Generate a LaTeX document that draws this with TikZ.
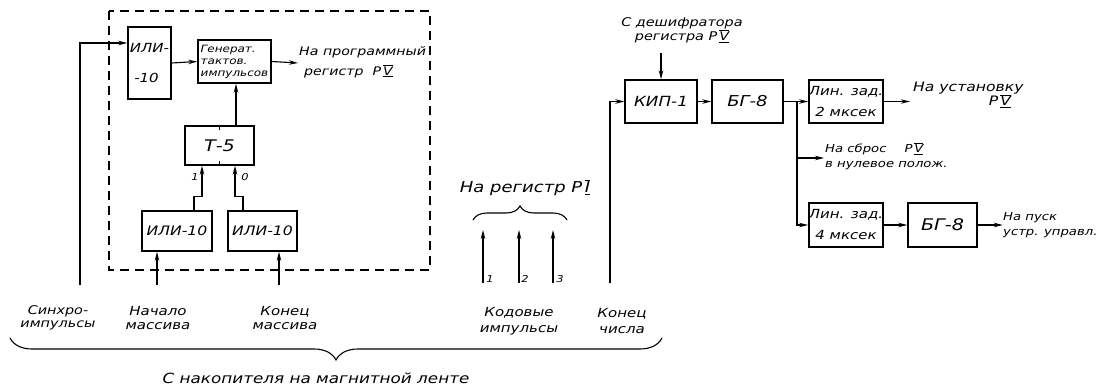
\documentclass[tikz,border=0pt]{standalone}
\usepackage{fontspec}
\usepackage{graphicx}
\setmainfont{DejaVu Sans}[FakeStretch=1.2]
\usetikzlibrary{arrows.meta,decorations.pathreplacing}
\newcommand\barred[1]{$\overline{\underline{\hbox{#1}}}$}
\begin{document}
\begin{tikzpicture}[x=1pt,y=-1pt,
  arr/.style={line width=1.1pt,-{Stealth[length=9pt,width=4.5pt]}},
  conn/.style={line width=1.1pt},
  f/.style 2 args={font=\fontsize{#1}{#2}\selectfont\itshape},
  blk/.style={draw,line width=1.5pt,inner sep=0pt,align=center},
  lbl/.style={inner sep=0pt,align=center},
  brc/.style={line width=1.1pt,decorate}]
\useasboundingbox (0,0) rectangle (1105,388);
% dashed frame
\draw[line width=1.1pt,dash pattern=on 9pt off 6pt] (109,11) rectangle (430,270);
% blocks
\node[blk,f={12.5}{30},minimum width=43pt,minimum height=72pt] (ili1) at (149.5,63) {ИЛИ-\\\hspace*{-6pt}-10};
\node[blk,f={10}{12},align=left,minimum width=73pt,minimum height=43pt] (gen) at (234.5,61.5)
  {Генерат.\\тактов.\\импульсов};
\node[blk,f={16}{18},minimum width=69pt,minimum height=39pt] (t5) at (219.5,145.5) {Т-5};
\node[blk,f={13}{16},minimum width=70pt,minimum height=40pt] (ili2) at (177,231) {ИЛИ-10};
\node[blk,f={13}{16},minimum width=69pt,minimum height=40pt] (ili3) at (262.5,231) {ИЛИ-10};
\node[blk,f={14}{16},minimum width=72pt,minimum height=43pt] (kip) at (661,101.5) {КИП-1};
\node[blk,f={15}{18},minimum width=71pt,minimum height=43pt] (bg1) at (747.5,101.5) {БГ-8};
\node[blk,f={12.5}{21},minimum width=72pt,minimum height=43pt] (lin1) at (846,101.5) {Лин. зад.\\2 мксек};
\node[blk,f={12.5}{21},minimum width=72pt,minimum height=44pt] (lin2) at (846,225) {Лин. зад.\\4 мксек};
\node[blk,f={16}{18},minimum width=69pt,minimum height=44pt] (bg2) at (942.5,225) {БГ-8};
% flip-flop ticks
\draw[conn] (t5.north) -- ++(0,5);
\draw[conn] (t5.south) -- ++(0,-5);
% free ends
\coordinate (sy) at (80,285);
\coordinate (nach) at (157,285);
\coordinate (konm) at (279,285);
\coordinate (kc) at (610,283);
\coordinate (k1) at (483,283);
\coordinate (k2) at (519,283);
\coordinate (k3) at (553,283);
\coordinate (genout) at (298,63);
\coordinate (desh) at (661,53);
\coordinate (J) at (797,101.5);
\coordinate (Jm) at (797,158);
% connectors
\draw[arr] (sy) |- ([yshift=20pt]ili1.west);
\draw[arr] (ili1.east) -- (gen.west);
\draw[arr] (gen.east) -- (genout);
\draw[arr] ([xshift=16.5pt]t5.north) -- ([xshift=16.5pt]t5.north |- gen.south);
\draw[arr] ([xshift=17pt]ili2.north) -- ++(0,-14) -| ([xshift=-17.5pt]t5.south);
\draw[arr] ([xshift=-19.5pt]ili3.north) -- ++(0,-14) -| ([xshift=15.5pt]t5.south);
\draw[arr] (nach) -- (nach |- ili2.south);
\draw[arr] (konm) -- (konm |- ili3.south);
\draw[arr] (k1) -- ++(0,-53);
\draw[arr] (k2) -- ++(0,-53);
\draw[arr] (k3) -- ++(0,-53);
\draw[arr] (kc) |- (kip.west);
\draw[arr] (desh) -- (kip.north);
\draw[arr] (kip.east) -- (bg1.west);
\draw[conn] (bg1.east) -- (J);
\draw[arr] (J) -- (lin1.west);
\draw[arr] (J) |- (lin2.west);
\draw[arr] (Jm) -- ++(27,0);
\draw[arr] (lin1.east) -- ++(26,0);
\draw[arr] (lin2.east) -- (bg2.west);
\draw[arr] (bg2.east) -- ++(25,0);
% braces
\draw[brc,decoration={brace,amplitude=14pt}] (473,220) -- (567,220);
\draw[brc,decoration={brace,amplitude=22pt,mirror}] (10,338) -- (662,338);
% labels
\node[lbl,f={11.8}{20},anchor=west,align=left] (prog) at (299,62) {На программный\\\hspace*{5pt}регистр\ \ Р\,\barred{V}};
\node[lbl,f={9.5}{10}] (l1) at (195,177) {1};
\node[lbl,f={9.5}{10}] (l0) at (245,177) {0};
\node[lbl,f={12}{13.5}] (synl) at (58,318) {Синхро-\\импульсы};
\node[lbl,f={12.5}{13.5}] (nachl) at (158,318) {Начало\\массива};
\node[lbl,f={12.5}{13.5}] (koml) at (285,318) {Конец\\массива};
\node[lbl,f={12.5}{16}] (kodl) at (519,321) {Кодовые\\импульсы};
\node[lbl,f={12.5}{16}] (kchl) at (622,321) {Конец\\числа};
\node[lbl,f={15}{15}] (regl) at (525,188) {На регистр Р\,\barred{I}};
\node[lbl,f={9.5}{10}] (n1) at (490,279) {1};
\node[lbl,f={9.5}{10}] (n2) at (525,279) {2};
\node[lbl,f={9.5}{10}] (n3) at (560,279) {3};
\node[lbl,f={14}{14}] (bot) at (316,378) {С накопителя на магнитной ленте};
\node[lbl,f={12}{12.5}] (deshl) at (682,30) {С дешифратора\\регистра Р\,\barred{V}};
\node[lbl,f={13}{15},anchor=west] (ust1) at (913,88) {На установку};
\node[lbl,f={13}{15}] (ust2) at (1000,101) {Р\,\barred{V}};
\node[lbl,f={11}{15},anchor=west,align=left] (sbr) at (825,156) {На сброс\hspace{18pt}Р\,\barred{V}\\в нулевое полож.};
\node[lbl,f={11}{15},anchor=west,align=left] (pusk) at (1003,225) {На пуск\\устр. управл.};
\end{tikzpicture}
\end{document}
